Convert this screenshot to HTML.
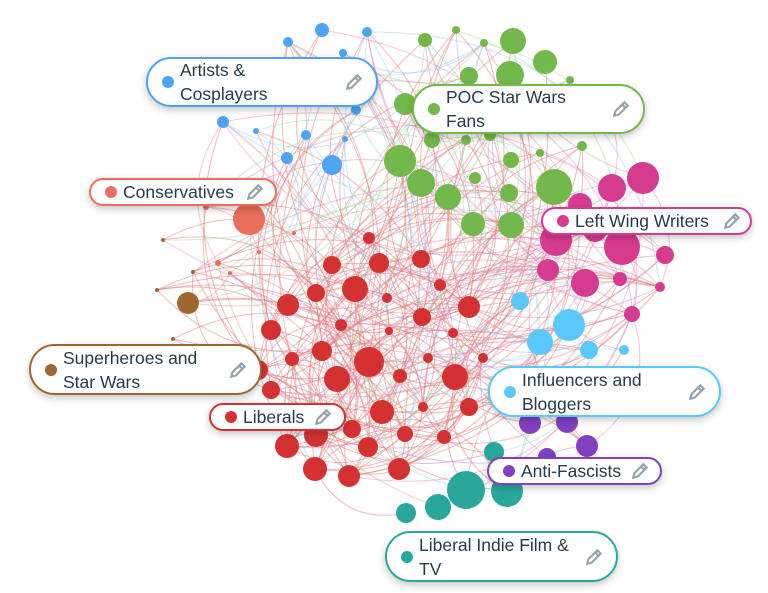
<!DOCTYPE html>
<html><head><meta charset="utf-8"><style>
html,body{margin:0;padding:0;background:#fff;}
body{width:768px;height:593px;position:relative;overflow:hidden;font-family:"Liberation Sans",sans-serif;}
svg{position:absolute;left:0;top:0;}
.lab{position:absolute;box-sizing:border-box;background:#fff;border:2px solid;border-radius:30px;box-shadow:0 3px 8px rgba(0,0,0,0.22);color:#263a4a;font-size:17.5px;line-height:24px;}
.lab .d{position:absolute;width:12px;height:12px;border-radius:50%;left:14px;top:50%;margin-top:-6px;}
.lab .t{position:absolute;left:32px;top:50%;transform:translateY(-50%);white-space:nowrap;}
.lab .p{position:absolute;top:50%;margin-top:-10px;width:20px;height:20px;}
</style></head><body>
<svg id="g" width="768" height="593"></svg>
<script>
var N={
b:['#4da3f5',[[322,30,7],[288,42,5],[343,53,4],[367,32,5],[223,122,6],[256,131,3],[306,135,5],[345,139,3],[287,158,6],[332,165,10],[356,110,5],[358,82,4]]],
g:['#72b84a',[[425,40,7],[456,30,4],[484,43,4],[513,41,13],[545,62,12],[469,76,9],[510,75,14],[570,80,4],[405,104,11],[432,140,8],[466,140,5],[490,135,6],[400,161,16],[421,183,14],[448,197,13],[475,178,6],[511,160,8],[509,193,9],[554,187,18],[582,146,5],[473,224,12],[511,225,13],[540,153,4],[495,110,10]]],
p:['#d63b8f',[[643,178,16],[612,188,14],[556,240,16],[595,230,12],[622,247,18],[665,255,9],[548,270,11],[585,283,14],[620,279,7],[632,314,8],[660,287,5],[580,205,12]]],
s:['#ea6f5a',[[249,219,16],[206,207,3],[230,273,2],[259,252,2],[294,233,2],[243,185,3],[218,263,3]]],
br:['#a0662f',[[188,303,11],[157,290,2],[173,339,2],[163,240,2],[193,272,2]]],
r:['#d43232',[[369,238,6],[332,265,9],[379,263,10],[421,259,9],[355,289,13],[316,293,9],[387,298,5],[440,285,6],[288,305,11],[469,307,11],[271,330,10],[341,325,6],[422,317,9],[389,331,4],[453,333,5],[322,351,10],[292,359,7],[369,362,15],[337,379,13],[400,376,7],[428,358,5],[483,358,5],[455,377,13],[271,390,9],[382,412,12],[423,407,5],[469,407,9],[352,429,9],[405,434,8],[444,437,7],[368,447,10],[316,435,12],[287,446,12],[315,469,12],[349,476,11],[399,469,11],[258,370,10]]],
lb:['#5ac8fa',[[520,301,9],[569,325,16],[540,342,13],[589,350,9],[624,350,5]]],
pu:['#8040c0',[[530,423,11],[567,422,11],[587,446,11],[547,457,9]]],
te:['#2aa79b',[[494,452,10],[466,490,19],[507,491,16],[438,507,13],[406,513,10]]]
};
var sd=7;function rnd(){sd=(sd*16807)%2147483647;return sd/2147483647;}
var ns='http://www.w3.org/2000/svg',g=document.getElementById('g'),all=[],reds=[];
for(var k in N){N[k][1].forEach(function(n){var o=[n[0],n[1],N[k][0],k];all.push(o);if(k=='r'||k=='p')reds.push(o);});}
var ecol={r:'#e27878',b:'#9cc8f2',g:'#b0d69a',p:'#e48ab8',s:'#eb9686',br:'#cfa987',lb:'#9cd9f7',pu:'#b592dc',te:'#8ecfc6'};
function edge(a,b,f){
 var mx=(a[0]+b[0])/2,my=(a[1]+b[1])/2,dx=b[0]-a[0],dy=b[1]-a[1];
 var cx=mx-dy*f,cy=my+dx*f;
 var p=document.createElementNS(ns,'path');
 p.setAttribute('d','M'+a[0]+','+a[1]+' Q'+cx+','+cy+' '+b[0]+','+b[1]);
 p.setAttribute('fill','none');p.setAttribute('stroke',ecol[a[3]]);
 p.setAttribute('stroke-width','1');p.setAttribute('opacity','0.5');g.appendChild(p);
}
for(var i=0;i<230;i++){
 var a=reds[Math.floor(rnd()*reds.length)],b=all[Math.floor(rnd()*all.length)];
 if(a!==b)edge(a,b,(rnd()<0.5?-1:1)*(0.2+rnd()*0.25));
}
for(var i=0;i<140;i++){
 var a=all[Math.floor(rnd()*all.length)],b=all[Math.floor(rnd()*all.length)];
 if(a!==b)edge(a,b,(rnd()<0.5?-1:1)*(0.2+rnd()*0.25));
}
for(var k in N){N[k][1].forEach(function(n){var c=document.createElementNS(ns,'circle');c.setAttribute('cx',n[0]);c.setAttribute('cy',n[1]);c.setAttribute('r',n[2]);c.setAttribute('fill',N[k][0]);g.appendChild(c);});}
</script>
<div class="lab" style="left:146px;top:57px;width:232px;height:50px;border-color:#4da3f5"><span class="d" style="background:#4da3f5"></span><span class="t">Artists &amp;<br>Cosplayers</span><svg class="p" style="left:196px" viewBox="0 0 18 18"><path d="M3 15 L4 11 L12 3 L15 6 L7 14 Z M10 5 L13 8" fill="none" stroke="#98a4ab" stroke-width="2"/></svg></div>
<div class="lab" style="left:412px;top:84px;width:233px;height:50px;border-color:#72b84a"><span class="d" style="background:#72b84a"></span><span class="t">POC Star Wars<br>Fans</span><svg class="p" style="left:197px" viewBox="0 0 18 18"><path d="M3 15 L4 11 L12 3 L15 6 L7 14 Z M10 5 L13 8" fill="none" stroke="#98a4ab" stroke-width="2"/></svg></div>
<div class="lab" style="left:89px;top:178px;width:188px;height:28px;border-color:#ea6f5a"><span class="d" style="background:#ea6f5a"></span><span class="t">Conservatives</span><svg class="p" style="left:154px" viewBox="0 0 18 18"><path d="M3 15 L4 11 L12 3 L15 6 L7 14 Z M10 5 L13 8" fill="none" stroke="#98a4ab" stroke-width="2"/></svg></div>
<div class="lab" style="left:541px;top:207px;width:211px;height:28px;border-color:#d63b8f"><span class="d" style="background:#d63b8f"></span><span class="t">Left Wing Writers</span><svg class="p" style="left:179px" viewBox="0 0 18 18"><path d="M3 15 L4 11 L12 3 L15 6 L7 14 Z M10 5 L13 8" fill="none" stroke="#98a4ab" stroke-width="2"/></svg></div>
<div class="lab" style="left:29px;top:344px;width:233px;height:51px;border-color:#a0662f"><span class="d" style="background:#a0662f"></span><span class="t">Superheroes and<br>Star Wars</span><svg class="p" style="left:197px" viewBox="0 0 18 18"><path d="M3 15 L4 11 L12 3 L15 6 L7 14 Z M10 5 L13 8" fill="none" stroke="#98a4ab" stroke-width="2"/></svg></div>
<div class="lab" style="left:209px;top:403px;width:137px;height:28px;border-color:#d43232"><span class="d" style="background:#d43232"></span><span class="t">Liberals</span><svg class="p" style="left:102px" viewBox="0 0 18 18"><path d="M3 15 L4 11 L12 3 L15 6 L7 14 Z M10 5 L13 8" fill="none" stroke="#98a4ab" stroke-width="2"/></svg></div>
<div class="lab" style="left:488px;top:366px;width:233px;height:51px;border-color:#5ac8fa"><span class="d" style="background:#5ac8fa"></span><span class="t">Influencers and<br>Bloggers</span><svg class="p" style="left:197px" viewBox="0 0 18 18"><path d="M3 15 L4 11 L12 3 L15 6 L7 14 Z M10 5 L13 8" fill="none" stroke="#98a4ab" stroke-width="2"/></svg></div>
<div class="lab" style="left:487px;top:457px;width:175px;height:28px;border-color:#8040c0"><span class="d" style="background:#8040c0"></span><span class="t">Anti-Fascists</span><svg class="p" style="left:141px" viewBox="0 0 18 18"><path d="M3 15 L4 11 L12 3 L15 6 L7 14 Z M10 5 L13 8" fill="none" stroke="#98a4ab" stroke-width="2"/></svg></div>
<div class="lab" style="left:385px;top:531px;width:233px;height:51px;border-color:#2aa79b"><span class="d" style="background:#2aa79b"></span><span class="t">Liberal Indie Film &amp;<br>TV</span><svg class="p" style="left:197px" viewBox="0 0 18 18"><path d="M3 15 L4 11 L12 3 L15 6 L7 14 Z M10 5 L13 8" fill="none" stroke="#98a4ab" stroke-width="2"/></svg></div>
</body></html>
